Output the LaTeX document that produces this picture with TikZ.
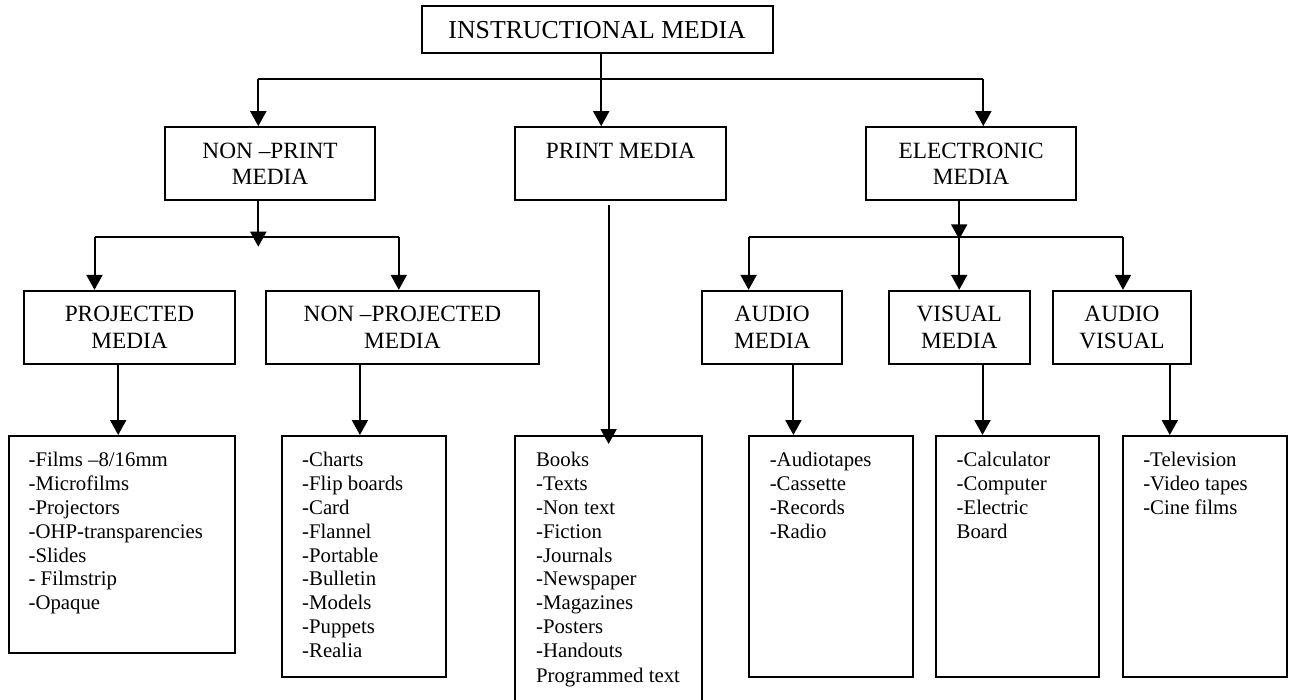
\documentclass[tikz,border=0pt]{standalone}
\usepackage{fontspec}
\setmainfont{Liberation Serif}
\usetikzlibrary{arrows.meta,fit,calc}
\begin{document}
\begin{tikzpicture}[x=0.5pt,y=-0.5pt,
  box/.style={draw, line width=1pt, inner sep=0pt},
  hbox/.style={box, align=center, font=\fontsize{11.65}{13.3}\selectfont, minimum height=36.5pt},
  toph/.style={box, align=center, font=\fontsize{12.9}{15}\selectfont},
  list/.style={font=\fontsize{10.4}{11.9}\selectfont, align=left, inner sep=0pt, anchor=north west},
  ln/.style={line width=1pt},
  arr/.style={line width=1pt, -{Triangle[width=8pt,length=7.5pt]}}]
\fill[white] (0,0) rectangle (1290,700);
\useasboundingbox (0,0) rectangle (1290,700);

% boxes
\node[toph, minimum width=175.55pt, minimum height=23.65pt] (top) at (597.15,29.65) {INSTRUCTIONAL MEDIA};
\node[hbox, minimum width=105.1pt] (np) at (270.1,163.65) {NON –PRINT\\MEDIA};
\node[hbox, minimum width=105.25pt] (pm) at (620.55,163.65) {PRINT MEDIA\\\mbox{}};
\node[hbox, minimum width=105.1pt] (em) at (971.1,163.65) {ELECTRONIC\\MEDIA};
\node[hbox, minimum width=105.5pt] (proj) at (129.5,327.35) {PROJECTED\\MEDIA};
\node[hbox, minimum width=136.6pt] (nproj) at (402.4,327.35) {NON –PROJECTED\\MEDIA};
\node[hbox, minimum width=70.05pt] (aud) at (772.25,327.35) {AUDIO\\MEDIA};
\node[hbox, minimum width=70.45pt] (vis) at (959.25,327.35) {VISUAL\\MEDIA};
\node[hbox, minimum width=69.45pt] (av) at (1121.95,327.35) {AUDIO\\VISUAL};

\node[box, fit={(9.1,436) (235,652.7)}] (l1) {};
\node[box, fit={(282,436) (445.7,677.3)}] (l2) {};
\node[box, fit={(515.3,436) (702.2,704)}] (l3) {};
\node[box, fit={(748.6,436) (912.8,677.3)}] (l4) {};
\node[box, fit={(935.6,436) (1099.4,677.3)}] (l5) {};
\node[box, fit={(1123,436) (1286.8,677.3)}] (l6) {};

% list texts
\node[list] (t1) at (28.2,452) {-Films –8/16mm\\-Microfilms\\-Projectors\\-OHP-transparencies\\-Slides\\- Filmstrip\\-Opaque};
\node[list] (t2) at (301.8,452) {-Charts\\-Flip boards\\-Card\\-Flannel\\-Portable\\-Bulletin\\-Models\\-Puppets\\-Realia};
\node[list] (t3) at (535.7,452) {Books\\-Texts\\-Non text\\-Fiction\\-Journals\\-Newspaper\\-Magazines\\-Posters\\-Handouts\\[0.9pt]Programmed text};
\node[list] (t4) at (769.4,452) {-Audiotapes\\-Cassette\\-Records\\-Radio};
\node[list] (t5) at (956.3,452) {-Calculator\\-Computer\\-Electric\\Board};
\node[list] (t6) at (1142.9,452) {-Television\\-Video tapes\\-Cine films};

% junction coordinates
\coordinate (jt) at (601.2,79);
\coordinate (ja) at (258.3,79);
\coordinate (jb) at (983.3,79);
\coordinate (ka) at (94.5,237.3);
\coordinate (kb) at (398.8,237.3);
\coordinate (kn) at (258.3,246.7);
\coordinate (ma) at (748.6,237.3);
\coordinate (mb) at (1123,237.3);
\coordinate (me) at (959.2,239.3);
\coordinate (px) at (608.6,0);
\coordinate (x1) at (118.2,0);
\coordinate (x2) at (359.9,0);
\coordinate (x4) at (793.4,0);
\coordinate (x5) at (982.5,0);
\coordinate (x6) at (1169.8,0);

% level 1
\draw[ln] (ja) -- (jb);
\draw[arr] (top.south -| jt) -- (pm.north -| jt);
\draw[arr] (ja) -- (np.north -| ja);
\draw[arr] (jb) -- (em.north -| jb);

% non-print branch
\draw[ln] (ka) -- (kb);
\draw[arr] (np.south -| kn) -- (kn);
\draw[arr] (ka) -- (proj.north -| ka);
\draw[arr] (kb) -- (nproj.north -| kb);

% electronic branch
\draw[ln] (ma) -- (mb);
\draw[arr] (em.south -| me) -- (me);
\draw[arr] (me |- ma) -- (vis.north -| me);
\draw[arr] (ma) -- (aud.north -| ma);
\draw[arr] (mb) -- (av.north -| mb);

% print branch
\draw[arr] ($(pm.south -| px)+(0,4)$) -- ($(l3.north -| px)+(0,9)$);

% to lists
\draw[arr] (proj.south -| x1) -- (l1.north -| x1);
\draw[arr] (nproj.south -| x2) -- (l2.north -| x2);
\draw[arr] (aud.south -| x4) -- (l4.north -| x4);
\draw[arr] (vis.south -| x5) -- (l5.north -| x5);
\draw[arr] (av.south -| x6) -- (l6.north -| x6);
\end{tikzpicture}
\end{document}
